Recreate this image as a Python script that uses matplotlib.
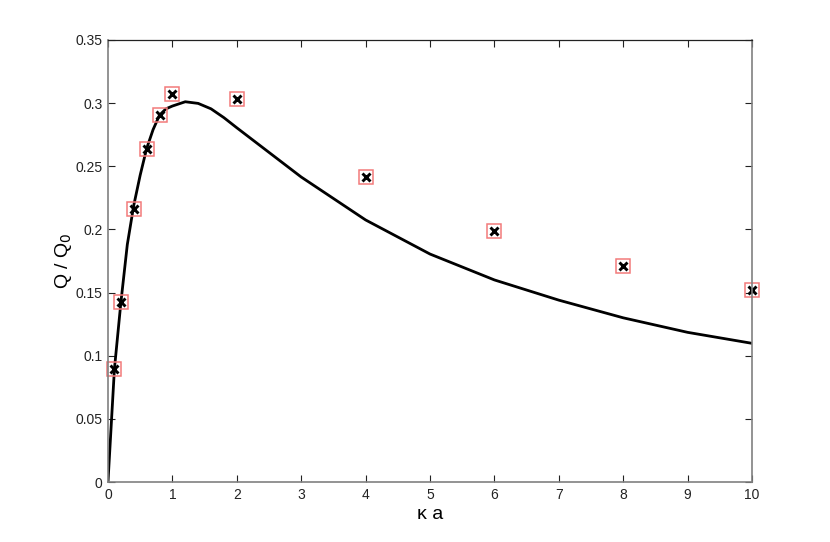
import matplotlib.pyplot as plt
import numpy as np

plt.rcParams['font.family'] = ['Liberation Sans', 'DejaVu Sans']

# theory curve
ka_curve = [0, 0.1, 0.2, 0.3, 0.4, 0.5, 0.6, 0.7, 0.8, 0.9, 1.0, 1.2, 1.4, 1.6, 1.8, 2.0,
            3, 4, 5, 6, 7, 8, 9, 10]
q_curve = [0, 0.0895, 0.142, 0.188, 0.219, 0.243, 0.264, 0.279, 0.2905, 0.2955, 0.2977,
           0.3011, 0.2998, 0.2955, 0.2885, 0.2805, 0.2415, 0.2075, 0.1805, 0.160, 0.144,
           0.130, 0.1185, 0.1098]

# simulation points
ka_pts = [0.1, 0.2, 0.4, 0.6, 0.8, 1, 2, 4, 6, 8, 10]
q_pts = [0.0895, 0.1423, 0.2164, 0.2634, 0.2908, 0.3072, 0.3035, 0.2415, 0.1987, 0.171, 0.152]

fig = plt.figure(figsize=(8.3, 5.42), dpi=100)
ax = fig.add_axes([0.1301, 0.1107, 0.776, 0.8155])

ax.plot(ka_curve, q_curve, color='black', lw=2)
ax.plot(ka_pts, q_pts, ls='none', marker='s', ms=10, mfc='none', mec='#f27b7b', mew=1.1,
        clip_on=False)
ax.plot(ka_pts, q_pts, ls='none', marker='x', ms=6, mec='black', mew=2.1, clip_on=False)

ax.set_xlim(0, 10)
ax.set_ylim(0, 0.35)
ax.set_xticks(np.arange(0, 11, 1))
ax.set_yticks(np.arange(0, 0.351, 0.05))
ax.set_xticklabels([str(v) for v in range(11)])
ax.set_yticklabels(['0', '0.05', '0.1', '0.15', '0.2', '0.25', '0.3', '0.35'])

ax.tick_params(direction='in', length=5, width=0.8, labelsize=10, colors='#222222',
               top=True, right=True, pad=4)
for side in ['left', 'bottom', 'right']:
    ax.spines[side].set_color('#808080')
    ax.spines[side].set_linewidth(1.2)
ax.spines['top'].set_color('#222222')
ax.spines['top'].set_linewidth(0.9)

ax.set_xlabel('κ a', fontsize=14, labelpad=3)
ax.set_ylabel('Q / Q$_0$', fontsize=14, labelpad=1)

fig.savefig('out.png', dpi=100)
